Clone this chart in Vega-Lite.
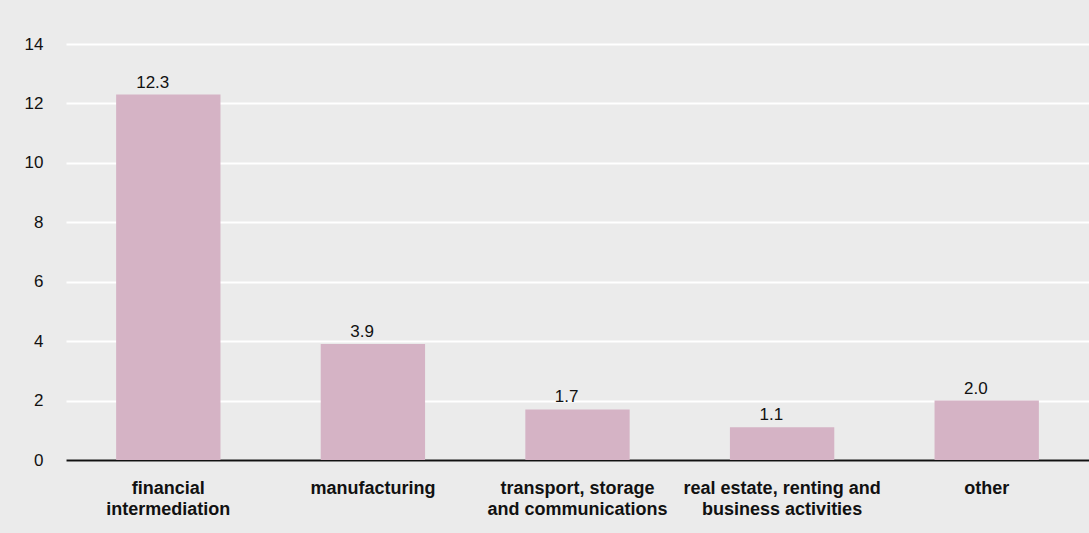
{
  "$schema": "https://vega.github.io/schema/vega-lite/v6.json",
  "autosize": {"type": "none"},
  "width": 1023,
  "height": 416,
  "padding": {"left": 66, "top": 44, "right": 0, "bottom": 73},
  "background": "#ebebeb",
  "config": {
    "view": {"stroke": null},
    "font": "Liberation Sans"
  },
  "data": {
    "values": [
      {"sector": "financial intermediation", "value": 12.3},
      {"sector": "manufacturing", "value": 3.9},
      {"sector": "transport, storage and communications", "value": 1.7},
      {"sector": "real estate, renting and business activities", "value": 1.1},
      {"sector": "other", "value": 2.0}
    ]
  },
  "encoding": {
    "x": {
      "field": "sector",
      "type": "nominal",
      "sort": null,
      "title": null,
      "scale": {"paddingInner": 0.49, "paddingOuter": 0.245},
      "axis": {
        "labelAngle": 0,
        "labelFontWeight": "bold",
        "labelFontSize": 18,
        "labelColor": "#111111",
        "labelPadding": 19,
        "labelLineHeight": 21,
        "labelBaseline": "top",
        "labelLimit": 0,
        "labelOverlap": false,
        "labelBound": false,
        "ticks": false,
        "domainColor": "#111111",
        "domainWidth": 2,
        "labelExpr": "datum.label == 'financial intermediation' ? ['financial', 'intermediation'] : datum.label == 'transport, storage and communications' ? ['transport, storage', 'and communications'] : datum.label == 'real estate, renting and business activities' ? ['real estate, renting and', 'business activities'] : datum.label"
      }
    },
    "y": {
      "field": "value",
      "type": "quantitative",
      "title": null,
      "scale": {"domain": [0, 14]},
      "axis": {
        "values": [0, 2, 4, 6, 8, 10, 12, 14],
        "domain": false,
        "ticks": false,
        "labelFontSize": 17,
        "labelColor": "#111111",
        "labelPadding": 23,
        "gridColor": "#ffffff",
        "gridWidth": 2,
        "gridOpacity": 1
      }
    }
  },
  "layer": [
    {"mark": {"type": "bar", "color": "#d5b3c5"}},
    {
      "mark": {"type": "text", "dy": -7, "baseline": "alphabetic", "align": "right", "dx": 1, "fontSize": 17, "color": "#111111"},
      "encoding": {"text": {"field": "value", "type": "quantitative", "format": ".1f"}}
    }
  ]
}
